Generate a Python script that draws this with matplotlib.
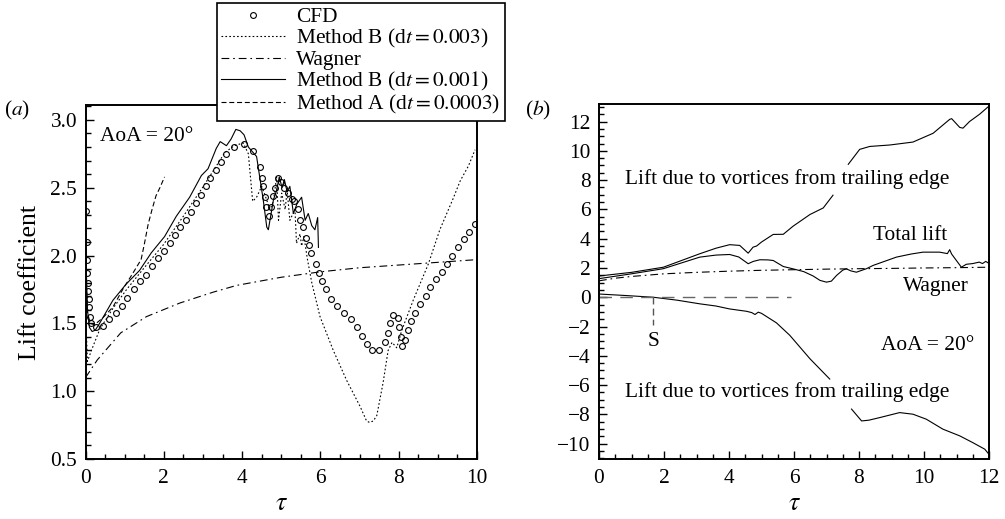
"""
Lift coefficient histories at AoA = 20 deg: (a) CFD vs vortex methods,
(b) decomposition of the total lift.
"""

import matplotlib

matplotlib.use("Agg")
import matplotlib.pyplot as plt
import numpy as np
from matplotlib.ticker import MultipleLocator

plt.rcParams["font.family"] = ["Liberation Serif", "DejaVu Serif"]
plt.rcParams["mathtext.fontset"] = "stix"

# ---------------- panel (a) data ----------------
cfd_tau = [0.02, 0.03, 0.04, 0.05, 0.06, 0.07, 0.08, 0.09, 0.11, 0.15, 0.27, 0.44,
           0.61, 0.77, 0.92, 1.07, 1.23, 1.38, 1.55, 1.71, 1.86, 2.01, 2.15, 2.29,
           2.42, 2.56, 2.69, 2.81, 2.94, 3.07, 3.19, 3.34, 3.47, 3.60, 3.80, 4.05,
           4.27, 4.46, 4.52, 4.54, 4.58, 4.61, 4.69, 4.75, 4.79, 4.84, 4.92, 4.99,
           5.08, 5.18, 5.27, 5.33, 5.44, 5.48, 5.55, 5.63, 5.70, 5.76, 5.89, 5.97,
           6.04, 6.14, 6.26, 6.43, 6.61, 6.78, 6.93, 7.07, 7.20, 7.32, 7.50, 7.64,
           7.73, 7.79, 7.86, 7.97, 8.01, 8.05, 8.08, 8.17, 8.24, 8.32, 8.42, 8.54,
           8.69, 8.81, 8.94, 9.10, 9.24, 9.37, 9.52, 9.68, 9.80, 9.94]
cfd_cl = [2.33, 2.10, 1.97, 1.87, 1.80, 1.74, 1.68, 1.62, 1.55, 1.50, 1.47, 1.48,
          1.53, 1.58, 1.63, 1.69, 1.75, 1.81, 1.86, 1.92, 1.98, 2.03, 2.09, 2.15,
          2.21, 2.26, 2.32, 2.39, 2.45, 2.51, 2.57, 2.63, 2.69, 2.75, 2.80, 2.82,
          2.77, 2.65, 2.57, 2.51, 2.43, 2.36, 2.29, 2.36, 2.44, 2.50, 2.57, 2.54,
          2.50, 2.46, 2.42, 2.40, 2.34, 2.26, 2.21, 2.13, 2.08, 2.02, 1.94, 1.87,
          1.81, 1.75, 1.68, 1.63, 1.58, 1.53, 1.47, 1.41, 1.35, 1.30, 1.30, 1.36,
          1.43, 1.50, 1.56, 1.54, 1.47, 1.40, 1.33, 1.38, 1.45, 1.52, 1.58, 1.64,
          1.70, 1.77, 1.83, 1.88, 1.94, 2.00, 2.06, 2.12, 2.17, 2.23]

mb3_tau = [0.00, 0.05, 0.15, 0.37, 0.70, 1.05, 1.50, 1.99, 2.50, 3.01, 3.56, 3.80,
           4.03, 4.16, 4.27, 4.37, 4.50, 4.58, 4.71, 4.80, 4.88, 4.93, 5.01, 5.10,
           5.15, 5.22, 5.35, 5.39, 5.48, 5.52, 5.58, 5.67, 5.78, 5.99, 6.33, 6.67,
           7.01, 7.18, 7.25, 7.35, 7.44, 7.60, 7.73, 7.83, 7.95, 8.08, 8.37, 8.76,
           9.05, 9.39, 9.57, 9.78, 9.95]
mb3_cl = [1.60, 1.22, 1.30, 1.46, 1.61, 1.75, 1.91, 2.08, 2.29, 2.51, 2.76, 2.81,
          2.83, 2.75, 2.40, 2.43, 2.51, 2.45, 2.34, 2.40, 2.58, 2.26, 2.46, 2.34,
          2.48, 2.26, 2.34, 2.09, 2.16, 2.07, 2.14, 1.97, 1.80, 1.55, 1.30, 1.08,
          0.89, 0.78, 0.77, 0.78, 0.82, 1.06, 1.30, 1.36, 1.32, 1.45, 1.67, 1.94,
          2.19, 2.42, 2.55, 2.66, 2.78]

mb1_tau = [0.00, 0.02, 0.05, 0.10, 0.17, 0.25, 0.36, 0.70, 1.04, 1.38, 1.68, 2.02,
           2.32, 2.66, 2.96, 3.13, 3.34, 3.44, 3.60, 3.72, 3.84, 3.95, 4.05, 4.16,
           4.37, 4.54, 4.63, 4.67, 4.80, 4.88, 4.95, 5.02, 5.08, 5.15, 5.22, 5.31,
           5.40, 5.52, 5.61, 5.69, 5.78, 5.86, 5.93, 5.95]
mb1_cl = [2.35, 1.90, 1.60, 1.47, 1.44, 1.45, 1.50, 1.67, 1.79, 1.89, 2.02, 2.14,
          2.29, 2.43, 2.59, 2.64, 2.79, 2.84, 2.81, 2.86, 2.93, 2.92, 2.89, 2.80,
          2.73, 2.41, 2.21, 2.19, 2.41, 2.48, 2.58, 2.50, 2.56, 2.47, 2.51, 2.31,
          2.38, 2.43, 2.26, 2.31, 2.22, 2.19, 2.28, 2.06]

ma_tau = [0.00, 0.05, 0.12, 0.23, 0.44, 0.70, 0.95, 1.21, 1.42, 1.50, 1.60, 1.70,
          1.80, 1.90, 2.02]
ma_cl = [1.90, 1.58, 1.50, 1.49, 1.54, 1.62, 1.75, 1.87, 1.97, 2.08, 2.23, 2.34,
         2.44, 2.50, 2.58]

wag_a_tau = [0.0, 0.3, 0.9, 1.56, 2.41, 3.26, 3.86, 5.0, 6.0, 7.0, 8.0, 9.0, 10.0]
wag_a_cl = [1.10, 1.23, 1.43, 1.55, 1.65, 1.73, 1.78, 1.84, 1.88, 1.91, 1.93, 1.95, 1.97]

# ---------------- panel (b) data ----------------
te_up_tau = [0.0, 1.0, 1.98, 3.1, 3.6, 4.02, 4.33, 4.59, 4.74, 4.85, 5.0, 5.36,
             5.67, 5.97, 6.49, 6.9, 7.2, np.nan, 7.67, 8.02, 8.33, 8.95, 9.66,
             10.28, 10.79, 10.85, 11.1, 11.2, 11.4, 11.71, 11.97]
te_up_cl = [1.45, 1.70, 2.05, 2.97, 3.35, 3.59, 3.54, 3.01, 3.42, 3.50, 3.77, 4.29,
            4.30, 4.85, 5.65, 6.10, 6.97, np.nan, 9.08, 10.10, 10.30, 10.40, 10.60,
            11.20, 12.15, 12.20, 11.60, 11.55, 12.00, 12.50, 13.00]

total_tau = [0.0, 1.0, 1.98, 3.1, 3.6, 4.02, 4.3, 4.59, 4.75, 4.95, 5.2, 5.36, 5.67,
             5.97, 6.3, 6.59, 6.8, 7.0, 7.15, 7.31, 7.5, 7.61, 7.75, 7.92, 8.23,
             8.43, 9.15, 9.6, 9.97, 10.48, 10.72, 10.79, 10.85, 11.0, 11.15, 11.3,
             11.5, 11.7, 11.8, 11.9, 11.97]
total_cl = [1.27, 1.60, 1.95, 2.74, 2.88, 2.92, 2.75, 2.29, 2.45, 2.56, 2.55, 2.51,
            2.10, 1.94, 1.75, 1.45, 1.15, 1.03, 1.10, 1.49, 1.85, 1.94, 1.80, 1.71,
            1.95, 2.17, 2.74, 2.95, 3.08, 3.08, 2.98, 3.25, 2.95, 2.50, 2.05, 2.25,
            2.30, 2.40, 2.30, 2.45, 2.35]

wag_b_tau = [0.0, 0.5, 1.0, 2.0, 3.0, 4.0, 5.0, 6.0, 7.0, 8.0, 9.0, 10.0, 11.0, 12.0]
wag_b_cl = [1.12, 1.30, 1.42, 1.60, 1.70, 1.78, 1.84, 1.88, 1.92, 1.95, 1.97, 2.00,
            2.02, 2.05]

te_lo_tau = [0.0, 0.8, 1.67, 2.4, 3.1, 3.6, 4.02, 4.54, 4.7, 4.8, 4.9, 5.0, 5.46,
             5.87, 6.49, 7.1, np.nan, 7.77, 8.08, 8.3, 8.64, 9.25, 9.66, 10.07,
             10.58, 11.1, 11.5, 11.87, 12.0]
te_lo_cl = [0.22, 0.12, 0.0, -0.20, -0.45, -0.60, -0.80, -0.96, -1.05, -1.18, -1.02,
            -1.10, -1.75, -2.60, -4.20, -5.59, np.nan, -7.64, -8.45, -8.40, -8.22,
            -7.88, -7.99, -8.33, -9.01, -9.47, -9.93, -10.38, -10.73]

zero_tau = [0.0, 5.9]
zero_cl = [0.0, 0.0]
s_tau = 1.67
s_range = [0.0, -1.9]

FS = 15.4
W, H = 1005, 519


def style_axes(ax):
    for sp in ax.spines.values():
        sp.set_linewidth(1.4)
    ax.tick_params(which="both", direction="in", top=False, right=False,
                   labelsize=FS, width=1.0)
    ax.tick_params(which="major", length=6)
    ax.tick_params(which="minor", length=3.5)
    ax.tick_params(axis="x", pad=7)
    ax.tick_params(axis="y", pad=6)


def main() -> None:
    fig = plt.figure(figsize=(W / 100, H / 100), dpi=100)
    ax_a = fig.add_axes([85.5 / W, 1 - 459 / H, 391.5 / W, 354 / H])
    ax_b = fig.add_axes([599 / W, 1 - 459 / H, 390 / W, 355 / H])

    lw = 0.8
    # panel (a)
    h_cfd, = ax_a.plot(cfd_tau, cfd_cl, linestyle="none", marker="o", ms=4.2,
                       mfc="none", mec="black", mew=0.8, label="CFD")
    h_b3, = ax_a.plot(mb3_tau, mb3_cl, color="black", lw=lw,
                      linestyle=(0, (1.5, 2.0)), label=r"Method B (d$t = 0.003$)")
    h_w, = ax_a.plot(wag_a_tau, wag_a_cl, color="black", lw=lw,
                     linestyle=(0, (7, 3.5, 1.5, 3.5)), label="Wagner")
    h_b1, = ax_a.plot(mb1_tau, mb1_cl, color="black", lw=lw,
                      label=r"Method B (d$t = 0.001$)")
    h_a, = ax_a.plot(ma_tau, ma_cl, color="black", lw=lw,
                     linestyle=(0, (4.5, 2.5)), label=r"Method A (d$t = 0.0003$)")

    ax_a.set_xlim(0, 10)
    ax_a.set_ylim(0.5, 3.11)
    ax_a.xaxis.set_major_locator(MultipleLocator(2))
    ax_a.xaxis.set_minor_locator(MultipleLocator(0.5))
    ax_a.yaxis.set_major_locator(MultipleLocator(0.5))
    ax_a.yaxis.set_minor_locator(MultipleLocator(0.1))
    ax_a.yaxis.set_major_formatter(plt.FormatStrFormatter("%.1f"))
    style_axes(ax_a)
    ax_a.set_xlabel(r"$\tau$", fontsize=18.5, labelpad=4)
    ax_a.set_ylabel("Lift coefficient", fontsize=18.5, labelpad=7)
    ax_a.text(0.37, 2.88, "AoA = 20°", fontsize=FS, ha="left", va="center")
    fig.text(4 / W, 1 - 110 / H, r"($a$)", fontsize=FS, ha="left", va="center")

    # panel (b)
    ax_b.plot(te_up_tau, te_up_cl, color="black", lw=lw)
    ax_b.plot(total_tau, total_cl, color="black", lw=lw)
    ax_b.plot(wag_b_tau, wag_b_cl, color="black", lw=lw,
              linestyle=(0, (7, 3.5, 1.5, 3.5)))
    ax_b.plot(te_lo_tau, te_lo_cl, color="black", lw=lw)
    ax_b.plot(zero_tau, zero_cl, color="#666666", lw=1.0, linestyle=(0, (9, 6)))
    ax_b.plot([s_tau, s_tau], s_range, color="#555555", lw=1.0,
              linestyle=(0, (5, 3)))

    ax_b.set_xlim(0, 12)
    ax_b.set_ylim(-11.05, 13.2)
    ax_b.xaxis.set_major_locator(MultipleLocator(2))
    ax_b.xaxis.set_minor_locator(MultipleLocator(0.5))
    ax_b.yaxis.set_major_locator(MultipleLocator(2))
    ax_b.yaxis.set_minor_locator(MultipleLocator(0.5))
    style_axes(ax_b)
    ax_b.set_xlabel(r"$\tau$", fontsize=18.5, labelpad=4)

    ax_b.text(5.79, 8.06, "Lift due to vortices from trailing edge", fontsize=FS,
              ha="center", va="center")
    ax_b.text(5.79, -6.5, "Lift due to vortices from trailing edge", fontsize=FS,
              ha="center", va="center")
    ax_b.text(9.56, 4.2, "Total lift", fontsize=FS, ha="center", va="center")
    ax_b.text(10.37, 0.7, "Wagner", fontsize=FS, ha="center", va="center")
    ax_b.text(10.1, -3.3, "AoA = 20°", fontsize=FS, ha="center", va="center")
    ax_b.text(s_tau, -3.0, "S", fontsize=FS, ha="center", va="center")
    fig.text(525 / W, 1 - 110 / H, r"($b$)", fontsize=FS, ha="left", va="center")

    leg = fig.legend(handles=[h_cfd, h_b3, h_w, h_b1, h_a],
                     loc="upper left", bbox_to_anchor=(217 / W, 1 - 3 / H),
                     bbox_transform=fig.transFigure, frameon=True, fancybox=False,
                     edgecolor="black", framealpha=1, fontsize=FS,
                     handlelength=3.0, handletextpad=0.5, labelspacing=0.0,
                     borderpad=0.2, borderaxespad=0, numpoints=1)
    leg.get_frame().set_linewidth(1.2)

    fig.savefig("out.png", dpi=100)


if __name__ == "__main__":
    main()
